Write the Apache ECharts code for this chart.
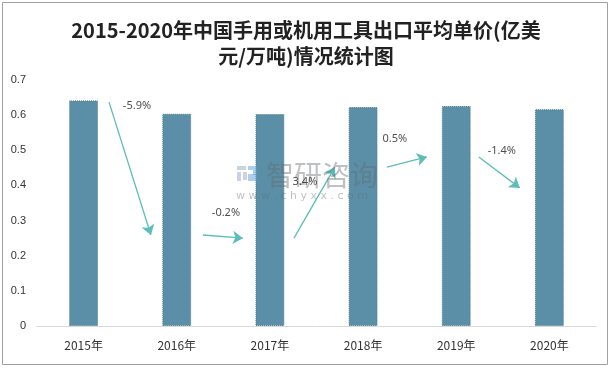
<!DOCTYPE html>
<html><head><meta charset="utf-8">
<script src="https://cdn.jsdelivr.net/npm/echarts@6/dist/echarts.min.js"></script>
<style>html,body{margin:0;padding:0;background:#fff}#c{width:612px;height:368px}</style>
</head><body><div id="c"></div>
<script>
const titleText = '2015-2020年中国手用或机用工具出口平均单价(亿美\n元/万吨)情况统计图';
const categories = ['2015年','2016年','2017年','2018年','2019年','2020年'];
const prices = [0.642, 0.604, 0.603, 0.623, 0.626, 0.617];
const yTicks = [0, 0.1, 0.2, 0.3, 0.4, 0.5, 0.6, 0.7];
// change annotations: arrow start/end in (category index, value) units, label anchor
const changeLabels = ['-5.9%', '-0.2%', '3.4%', '0.5%', '-1.4%'];
const arrowFrom = [[0.273,0.637],[1.281,0.259],[2.258,0.250],[3.255,0.452],[4.242,0.481]];
const arrowTo   = [[0.723,0.259],[1.710,0.250],[2.697,0.452],[3.685,0.481],[4.682,0.393]];
const labelAt   = [[0.573,0.626],[1.528,0.322],[2.376,0.410],[3.341,0.532],[4.489,0.498]];

const chart = echarts.init(document.getElementById('c'));
const wmText = 'rgba(100,105,110,0.42)';
chart.setOption({
  animation:false,
  backgroundColor:'#fff',
  title:{text:titleText,left:'center',top:12,
    textStyle:{fontFamily:'"Noto Sans CJK SC",serif',fontSize:20,fontWeight:'bold',color:'#222',lineHeight:26}},
  grid:{left:37,right:16,top:80,bottom:42},
  xAxis:[{type:'category',data:categories,
    axisLine:{lineStyle:{color:'#d9d9d9'}},axisTick:{show:false},
    axisLabel:{color:'#333',fontSize:12,margin:13,fontFamily:'"Noto Sans CJK SC",sans-serif'}},
    {type:'value',min:-0.5,max:5.5,show:false}],
  yAxis:{type:'value',min:yTicks[0],max:yTicks[yTicks.length-1],interval:0.1,
    axisLine:{show:false},axisTick:{show:false},splitLine:{show:false},
    axisLabel:{color:'#333',fontSize:11,margin:11,formatter:v=>String(+v.toFixed(1))}},
  graphic:[
    {type:'rect',shape:{x:2.5,y:2.5,width:605,height:362},style:{fill:'none',stroke:'#a0a0a0',lineWidth:1},silent:true,z:1},
    {type:'rect',z:100,shape:{x:237,y:166,width:9,height:4},style:{fill:'rgba(150,165,200,0.5)'}},
    {type:'rect',z:100,shape:{x:237,y:172,width:4,height:9},style:{fill:'rgba(150,165,200,0.5)'}},
    {type:'rect',z:100,shape:{x:243,y:172,width:4,height:8},style:{fill:'rgba(150,165,200,0.5)'}},
    {type:'rect',z:100,shape:{x:248,y:166,width:9,height:4},style:{fill:'rgba(90,160,215,0.5)'}},
    {type:'rect',z:100,shape:{x:253,y:170,width:4,height:5},style:{fill:'rgba(90,160,215,0.5)'}},
    {type:'rect',z:100,shape:{x:248,y:174,width:9,height:3},style:{fill:'rgba(90,160,215,0.5)'}},
    {type:'rect',z:100,shape:{x:248,y:177,width:9,height:4},style:{fill:'rgba(90,160,215,0.5)'}},
    {type:'text',z:100,x:266,y:161,style:{text:'智研咨询',font:'28px "Noto Sans CJK SC"',fill:wmText}},
    {type:'text',z:100,x:236,y:191,style:{text:'w w w . c h y x x . c o m',font:'11px "DejaVu Sans"',fill:wmText}}
  ],
  series:[
    {type:'bar',data:prices,barWidth:'31%',
      itemStyle:{color:'#5b8fa7',borderColor:'#4d7d94',borderWidth:1,borderType:'dotted'}},
    {type:'lines',coordinateSystem:'cartesian2d',xAxisIndex:1,yAxisIndex:0,z:5,
      symbol:['none','arrow'],symbolSize:10,
      lineStyle:{color:'#5dbdb8',width:1.3,opacity:1},
      data:arrowFrom.map((f,i)=>({coords:[f,arrowTo[i]]}))},
    {type:'scatter',xAxisIndex:1,yAxisIndex:0,symbolSize:0,z:200,zlevel:1,
      data:labelAt.map((p,i)=>({value:p,name:changeLabels[i]})),
      label:{show:true,position:'inside',formatter:p=>p.name,color:'#222',fontSize:11,
        fontFamily:'"Noto Sans","DejaVu Sans",sans-serif'}}
  ]
});
</script></body></html>
